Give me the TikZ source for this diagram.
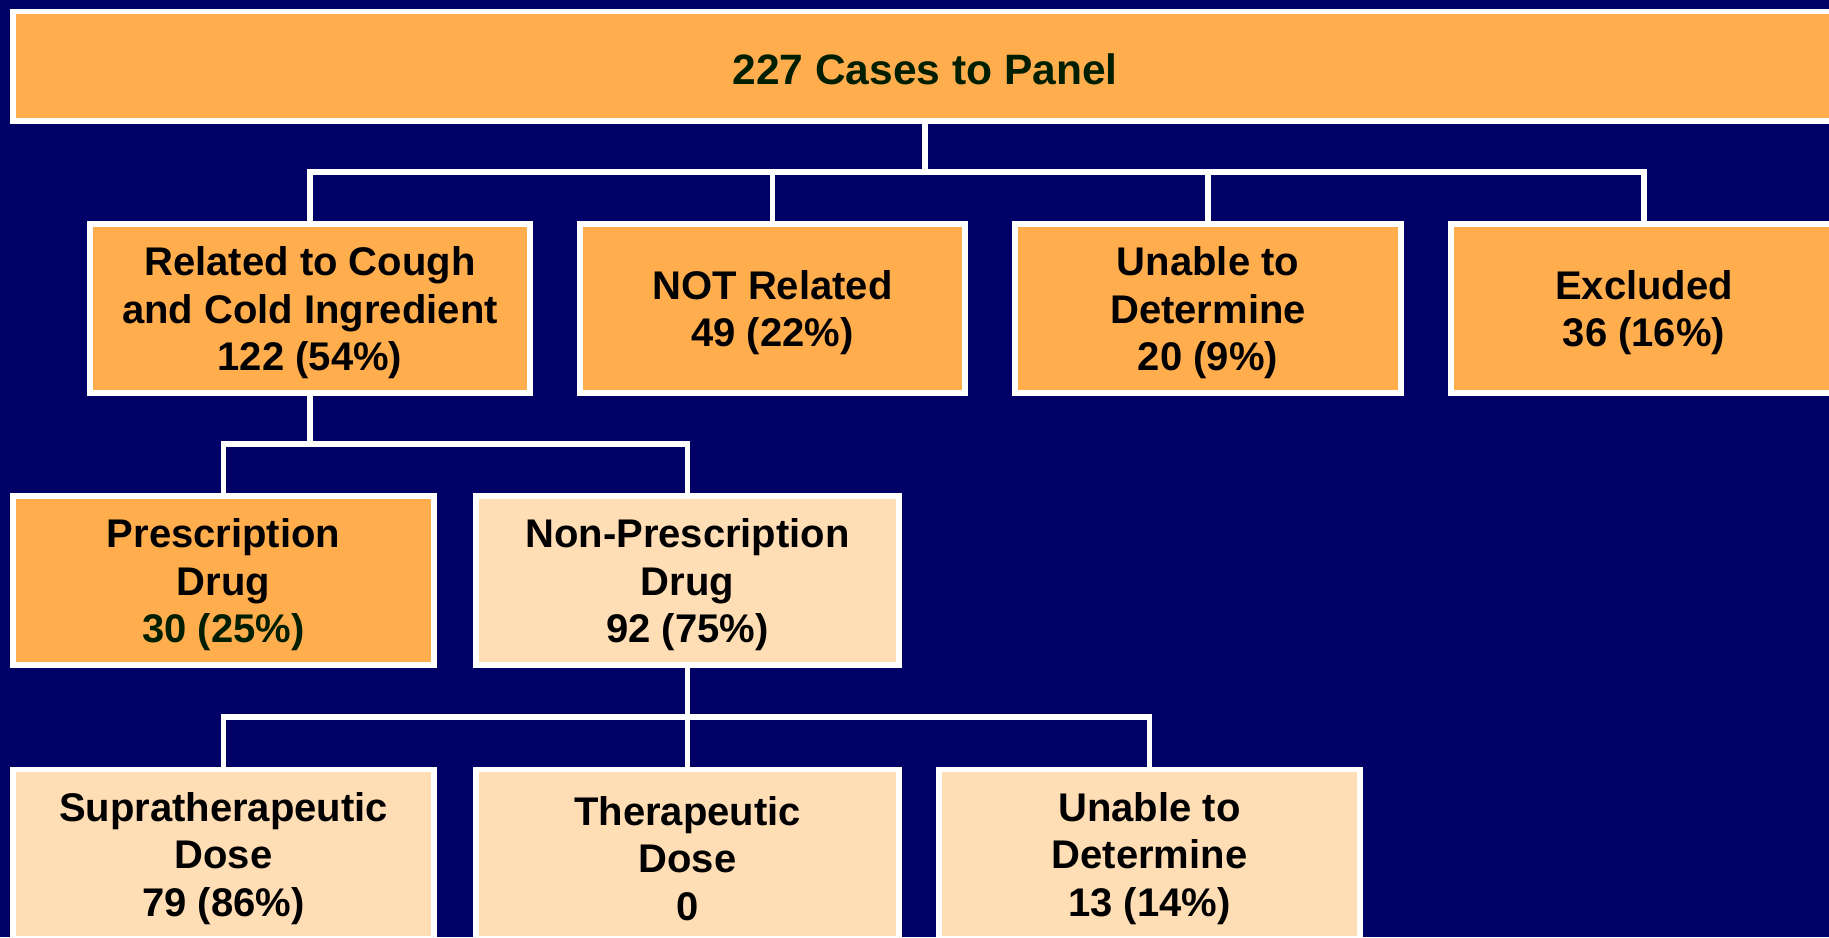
\documentclass[tikz,border=0pt]{standalone}
\usepackage{fontspec}
\setmainfont{Liberation Sans}
\definecolor{navy}{RGB}{0,0,102}
\definecolor{boxorange}{RGB}{255,173,77}
\definecolor{boxpeach}{RGB}{255,221,181}
\definecolor{labelgreen}{RGB}{0,30,0}

\begin{document}
\begin{tikzpicture}[x=0.5pt,y=-0.5pt,
  box/.style={draw=white, line width=2.8pt, fill=boxorange, inner sep=0pt,
    minimum height=84.7pt},
  pale/.style={box, fill=boxpeach},
  txt/.style={align=center, text=black, inner sep=0pt, yshift=-2.2pt,
    font=\fontsize{20}{23.75}\selectfont\bfseries},
  conn/.style={draw=white, line width=2.7pt, line join=miter}]
\clip (0,0) rectangle (1829,937);
\fill[navy] (0,0) rectangle (1829,937);

% root
\node[box, minimum width=912.2pt, minimum height=54.7pt,
  label={[txt, text=labelgreen, yshift=0.4pt, font=\fontsize{21.25}{25}\selectfont\bfseries]center:227 Cases to Panel}]
  (top) at (925,66) {};

% first level
\node[box, minimum width=220.2pt,
  label={[txt]center:Related to Cough\\and Cold Ingredient\\122 (54\%)}]
  (rel) at (310,308.5) {};
\node[box, minimum width=192.7pt,
  label={[txt]center:NOT Related\\49 (22\%)}]
  (notrel) at (772.5,308.5) {};
\node[box, minimum width=193.2pt,
  label={[txt]center:Unable to\\Determine\\20 (9\%)}]
  (unable) at (1208,308.5) {};
\node[box, minimum width=193.2pt,
  label={[txt]center:Excluded\\36 (16\%)}]
  (excl) at (1644,308.5) {};

% second level
\node[box, minimum width=210.7pt,
  label={[txt]center:Prescription\\Drug\\\textcolor{labelgreen}{30 (25\%)}}]
  (presc) at (223.5,580.5) {};
\node[pale, minimum width=211.7pt,
  label={[txt]center:Non-Prescription\\Drug\\92 (75\%)}]
  (nonpresc) at (687.5,580.5) {};

% third level
\node[pale, minimum width=210.7pt,
  label={[txt]center:Supratherapeutic\\Dose\\79 (86\%)}]
  (supra) at (223.5,854) {};
\node[pale, minimum width=211.7pt,
  label={[txt]center:Therapeutic\\Dose\\0}]
  (thera) at (687.5,854) {};
\node[pale, minimum width=210.7pt,
  label={[txt]center:Unable to\\Determine\\13 (14\%)}]
  (unable2) at (1149.5,854) {};

% bus lines
\coordinate (busA) at (925,172);
\coordinate (busB) at (310,444);
\coordinate (busC) at (687.5,717);

\draw[conn] (top.south) -- (top.south |- busA);
\draw[conn] (rel.north) |- (excl.north |- busA) -- (excl.north);
\draw[conn] (notrel.north) -- (notrel.north |- busA);
\draw[conn] (unable.north) -- (unable.north |- busA);

\draw[conn] (rel.south) -- (rel.south |- busB);
\draw[conn] (presc.north) |- (nonpresc.north |- busB) -- (nonpresc.north);

\draw[conn] (nonpresc.south) -- (nonpresc.south |- busC);
\draw[conn] (supra.north) |- (unable2.north |- busC) -- (unable2.north);
\draw[conn] (thera.north) -- (thera.north |- busC);
\end{tikzpicture}
\end{document}
